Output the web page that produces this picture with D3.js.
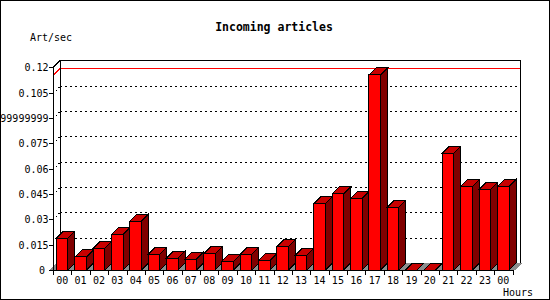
<!DOCTYPE html>
<html><head><meta charset="utf-8">
<script src="https://cdn.jsdelivr.net/npm/d3@7"></script>
<style>
html,body{margin:0;padding:0;background:#fff;}
svg{display:block;}
text{font-family:"DejaVu Sans Mono",monospace;font-size:10px;fill:#000;}
</style></head><body>
<script>
const hours = ["00","01","02","03","04","05","06","07","08","09","10","11","12","13","14","15","16","17","18","19","20","21","22","23","00"];
const artPerSec = [0.0188,0.0077,0.0128,0.0211,0.0290,0.0093,0.0071,0.0065,0.0095,0.0051,0.0093,0.0057,0.0140,0.0087,0.0391,0.0450,0.0424,0.1155,0.0371,0,0,0.0691,0.0495,0.0478,0.0495];
const yTickValues = [0,0.015,0.03,0.045,0.06,0.075,0.09,0.105,0.12];
const yTickLabels = ["0","0.015","0.03","0.045","0.06","0.075","0.0899999999999999","0.105","0.12"];
const gridValues = [0.015,0.03,0.045,0.06,0.075,0.09,0.105];
const titleText = "Incoming articles";
const yTitle = "Art/sec";
const xTitle = "Hours";

const W = 550, H = 300;
const D = 7; // 3D depth
const x0 = 53, x1 = 512.5, yBase = 270, yTop = 67.3;

const svg = d3.select("body").append("svg").attr("width", W).attr("height", H)
  .attr("shape-rendering","crispEdges");

const x = d3.scaleBand().domain(d3.range(hours.length)).range([x0, x1])
  .paddingInner(0.37).paddingOuter(0.185);
const y = d3.scaleLinear().domain([0, 0.12]).range([yBase, yTop]);

// outer frame
svg.append("rect").attr("x",0.5).attr("y",0.5).attr("width",W-1).attr("height",H-1)
  .attr("fill","none").attr("stroke","#000");

// title
svg.append("text").attr("x",274).attr("y",27).attr("dy","0.35em").attr("text-anchor","middle")
  .style("font-weight","bold").style("font-size","11.5px").text(titleText);
svg.append("text").attr("x",30).attr("y",37).attr("dy","0.35em").text(yTitle);
svg.append("text").attr("x",533).attr("y",292).attr("dy","0.35em").attr("text-anchor","end").text(xTitle);

// back plane grid lines (dotted) incl. slanted connectors
gridValues.forEach(v => {
  const yy = Math.round(y(v)) + 0.5;
  svg.append("line").attr("x1", x0+D).attr("x2", x1+D).attr("y1", yy-D).attr("y2", yy-D)
    .attr("stroke","#000").attr("stroke-dasharray","2,3");
  svg.append("line").attr("x1", x0).attr("x2", x0+D).attr("y1", yy).attr("y2", yy-D)
    .attr("stroke","#000").attr("stroke-dasharray","1,3");
});

// max line (red)
const maxV = d3.max(artPerSec);
{
  const yy = Math.round(y(maxV)) + 0.5;
  svg.append("line").attr("x1", x0).attr("x2", x0+D).attr("y1", yy).attr("y2", yy-D).attr("stroke","#f00");
  svg.append("line").attr("x1", x0+D).attr("x2", x1+D).attr("y1", yy-D).attr("y2", yy-D).attr("stroke","#f00");
}

// back box
{
  const yt = Math.round(y(0.12)) + 0.5, yb = yBase + 0.5;
  const pts = [[x0, yt],[x0+D, yt-D],[x1+D+0.5, yt-D],[x1+D+0.5, yb-D],[x1, yb]];
  svg.append("polyline").attr("points", pts.map(p=>p.join(",")).join(" "))
    .attr("fill","none").attr("stroke","#000");
  svg.append("line").attr("x1", x0+D).attr("x2", x0+D).attr("y1", yt-D).attr("y2", yb-D).attr("stroke","#000");
}

// floor shadows (gray) in the gaps
const bw = x.bandwidth();
const gap = x.step() - bw;
const shadowIdx = d3.range(hours.length + 1);
svg.append("g").selectAll("polygon").data(shadowIdx).join("polygon")
  .attr("points", i => {
    const L = (i < hours.length ? x(i) : x(hours.length-1) + x.step());
    const a = L - gap;
    return [[a, yBase],[L, yBase],[L+D, yBase-D],[a+D, yBase-D]].map(p=>p.join(",")).join(" ");
  })
  .attr("fill","#8c8c8c").attr("stroke","none");

// bars
const bars = svg.append("g").selectAll("g").data(artPerSec).join("g");
bars.each(function(v, i) {
  const g = d3.select(this);
  const L = x(i), R = x(i) + bw, T = y(v), B = yBase;
  // front
  g.append("polygon").attr("points", [[L,T],[R,T],[R,B],[L,B]].map(p=>p.join(",")).join(" "))
    .attr("fill","#ff0000").attr("stroke","#000");
  // top
  g.append("polygon").attr("points", [[L,T],[L+D,T-D],[R+D,T-D],[R,T]].map(p=>p.join(",")).join(" "))
    .attr("fill","#c80000").attr("stroke","#000");
  // side
  if (v > 0) {
    g.append("polygon").attr("points", [[R,T],[R+D,T-D],[R+D,B-D],[R,B]].map(p=>p.join(",")).join(" "))
      .attr("fill","#800000").attr("stroke","#000");
  }
});

// y axis
svg.append("line").attr("x1", x0+0.5).attr("x2", x0+0.5).attr("y1", Math.round(y(0.12))).attr("y2", yBase+1).attr("stroke","#000");
yTickValues.forEach((v, k) => {
  const yy = Math.round(y(v)) + 0.5;
  svg.append("line").attr("x1", x0-4).attr("x2", x0).attr("y1", yy).attr("y2", yy).attr("stroke","#000");
  svg.append("text").attr("x", v === 0 ? 45 : 48.5).attr("y", yy).attr("dy","0.35em")
    .attr("text-anchor","end").text(yTickLabels[k]);
});

// x axis
svg.append("line").attr("x1", x0).attr("x2", x1).attr("y1", yBase+0.5).attr("y2", yBase+0.5).attr("stroke","#000");
d3.range(hours.length + 1).forEach(i => {
  const xx = Math.round(x0 + i * x.step()) + 0.5;
  svg.append("line").attr("x1", xx).attr("x2", xx).attr("y1", yBase).attr("y2", yBase+5).attr("stroke","#000");
});
hours.forEach((h, i) => {
  svg.append("text").attr("x", x(i) + bw/2).attr("y", 280).attr("dy","0.35em")
    .attr("text-anchor","middle").text(h);
});
</script>
</body></html>
